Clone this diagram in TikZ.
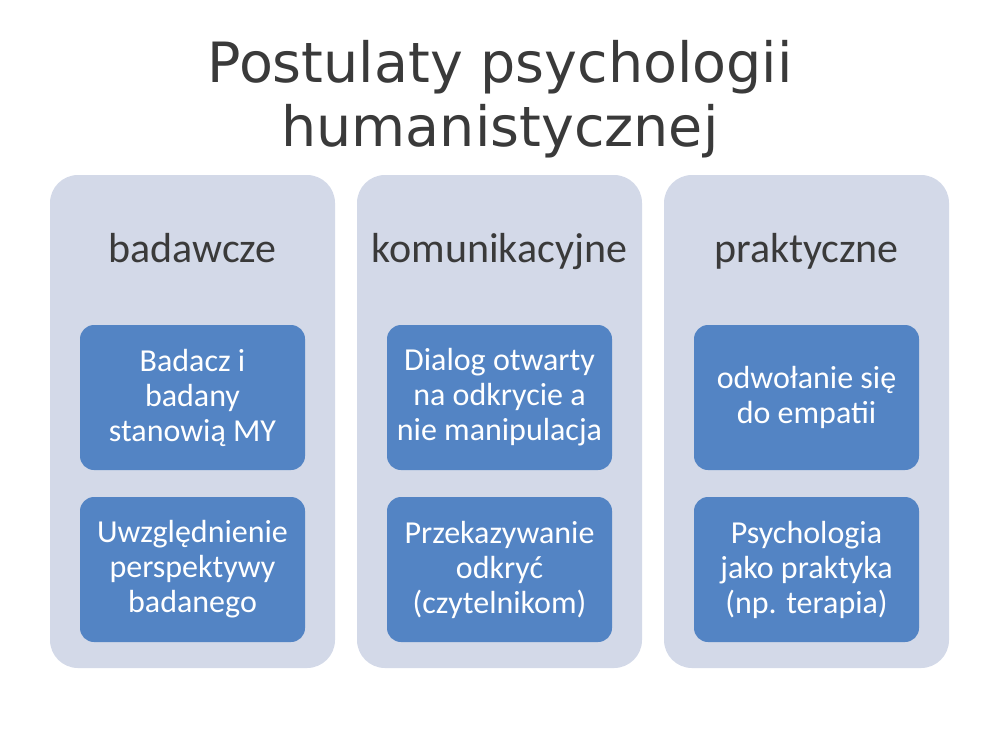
\documentclass[tikz,border=0pt]{standalone}
\usepackage{fontspec}
\setmainfont{Carlito}
\newfontfamily\titlefont{DejaVu Sans}
\definecolor{outerfill}{HTML}{D3D9E8}
\definecolor{innerfill}{HTML}{5384C4}
\definecolor{darktext}{HTML}{3A3A3A}
\begin{document}
\begin{tikzpicture}[x=1pt,y=-1pt,
  outerbox/.style={fill=outerfill,rounded corners=28pt},
  innerbox/.style={fill=innerfill,rounded corners=14pt,minimum width=225pt,minimum height=145pt,
    text=white,align=center,font=\fontsize{32}{35}\selectfont,inner sep=0pt},
  header/.style={text=darktext,anchor=base,font=\fontsize{42}{48}\selectfont},
  titletext/.style={text=darktext,anchor=base,font=\titlefont\fontsize{55.5}{64}\selectfont}]
\useasboundingbox (0,0) rectangle (1000,750);
\node[titletext] (title1) at (500,82) {Postulaty psychologii};
\node[titletext] (title2) at (500,146) {humanistycznej};
% column 1
\fill[outerbox] (50,175) rectangle (335,668);
\node[header] (h1) at (192.5,262) {badawcze};
\node[innerbox] (a1) at (192.5,397.5) {Badacz i\\badany\\stanowią MY};
\node[innerbox] (a2) at (192.5,569.5) {Uwzględnienie\\perspektywy\\badanego};
% column 2
\fill[outerbox] (357,175) rectangle (642,668);
\node[header] (h2) at (499.5,262) {komunikacyjne};
\node[innerbox] (b1) at (499.5,397.5) {Dialog otwarty\\na odkrycie a\\nie manipulacja};
\node[innerbox] (b2) at (499.5,569.5) {Przekazywanie\\odkryć\\(czytelnikom)};
% column 3
\fill[outerbox] (664,175) rectangle (949,668);
\node[header] (h3) at (806.5,262) {praktyczne};
\node[innerbox] (c1) at (806.5,397.5) {odwołanie się\\do empatii};
\node[innerbox] (c2) at (806.5,569.5) {Psychologia\\jako praktyka\\(np. terapia)};
\end{tikzpicture}
\end{document}
